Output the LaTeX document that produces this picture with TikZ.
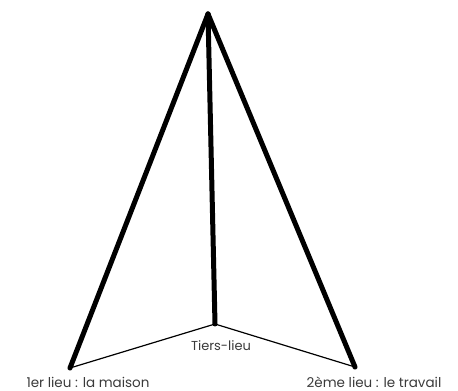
\documentclass[tikz,border=0pt]{standalone}
\usepackage{fontspec}
\setmainfont{Poppins}
\definecolor{labelgray}{HTML}{3A3A3A}
\tikzset{
  edge/.style={line width=5pt, line cap=round, line join=round},
  base/.style={line width=1.2pt, line cap=round},
  lbl/.style={text=labelgray, font=\fontsize{13.5}{14}\selectfont, inner sep=0pt}
}
\begin{document}
\begin{tikzpicture}[x=1pt,y=1pt]
\useasboundingbox (0,0) rectangle (458,391);
\coordinate (apex) at (208,377);
\coordinate (maison) at (70,23);
\coordinate (travail) at (355,24);
\coordinate (tiers) at (215,67);
\draw[base] (maison) -- (tiers) -- (travail);
\draw[edge] (apex) -- (maison);
\draw[edge] (apex) -- (travail);
\draw[edge] (apex) -- (tiers);
\node[lbl] (lmaison) at (88,9) {1er lieu : la maison};
\node[lbl] (ltravail) at (374,9) {2ème lieu : le travail};
\node[lbl, font=\fontsize{13}{14}\selectfont] (ltiers) at (221,45) {Tiers-lieu};
\end{tikzpicture}
\end{document}
